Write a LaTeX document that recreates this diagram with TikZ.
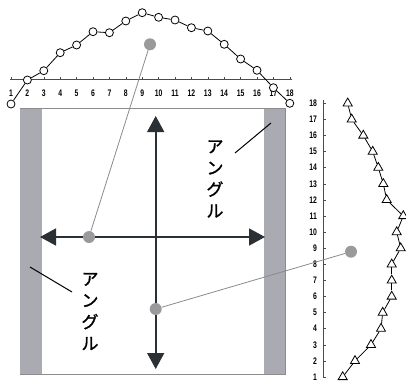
\documentclass[tikz,border=0pt]{standalone}
\usepackage{fontspec}
\setmainfont{Liberation Sans}
\newfontfamily\jp[FakeBold=1.2]{Noto Sans CJK JP}
\usetikzlibrary{arrows.meta,shapes.geometric}
\definecolor{bargray}{HTML}{A9AAB2}
\definecolor{dotgray}{HTML}{9A9A9C}
\definecolor{arrowdark}{HTML}{2B3035}
\tikzset{
  cmark/.style={circle,draw=black,fill=white,line width=0.8pt,inner sep=0pt,minimum size=8pt},
  tmark/.style={regular polygon,regular polygon sides=3,draw=black,fill=white,line width=0.8pt,inner sep=0pt,minimum size=10.5pt},
  gdot/.style={circle,fill=dotgray,inner sep=0pt,minimum size=12pt},
  numlab/.style={font=\bfseries\fontsize{9.5}{10}\selectfont,inner sep=0pt,xscale=0.72},
  jplabel/.style={font=\jp\fontsize{17}{21.5}\selectfont,align=center,inner sep=0pt},
  bigarrow/.style={line width=1.6pt,draw=arrowdark,{Triangle[width=17pt,length=16pt,fill=arrowdark]}-{Triangle[width=17pt,length=16pt,fill=arrowdark]}},
  graylink/.style={draw=dotgray!90!black,line width=0.8pt},
  leader/.style={draw=black,line width=1pt}
}
\begin{document}
\begin{tikzpicture}[x=1pt,y=-1pt]
\useasboundingbox (0,0) rectangle (406,383);
% ---------- top chart ----------
\coordinate (axL) at (10,79);
\coordinate (axR) at (292,79);
\draw[line width=0.6pt,draw=black!70] (axL) -- (axR);
\foreach \i in {1,...,18}{
  \pgfmathsetmacro{\xx}{11+(\i-1)*16.4}
  \draw[line width=0.5pt,draw=black!70] (\xx,79) -- (\xx,76.5);
  \node[numlab] (xl\i) at (\xx,93) {\i};
}
\foreach \i/\yy in {1/104,2/80,3/70.7,4/52.7,5/45,6/31.7,7/32.7,8/21,9/12.7,10/17.3,11/20,12/27.7,13/31,14/44.3,15/59,16/70.3,17/87.7,18/103.3}{
  \pgfmathsetmacro{\xx}{11+(\i-1)*16.4}
  \node[cmark] (c\i) at (\xx,\yy) {};
}
\foreach \i [evaluate=\i as \j using int(\i+1)] in {1,...,17}{
  \draw[line width=0.8pt] (c\i) -- (c\j);
}
% ---------- right chart ----------
\coordinate (ayT) at (323,100);
\coordinate (ayB) at (323,378);
\draw[line width=0.6pt,draw=black!70] (ayT) -- (ayB);
\foreach \i in {1,...,18}{
  \pgfmathsetmacro{\yy}{377-(\i-1)*16.1}
  \draw[line width=0.5pt,draw=black!70] (323,\yy) -- (326,\yy);
  \node[numlab,anchor=east] (yl\i) at (317,\yy) {\i};
}
\foreach \i/\xx in {1/342.7,2/355,3/371,4/381,5/382.7,6/391.7,7/391.7,8/391.7,9/400.7,10/396.7,11/403.3,12/386.7,13/383.3,14/378.3,15/372.7,16/363.3,17/351.7,18/347.7}{
  \pgfmathsetmacro{\yy}{377-(\i-1)*16.1}
  \node[tmark] (t\i) at (\xx,\yy) {};
}
\foreach \i [evaluate=\i as \j using int(\i+1)] in {1,...,17}{
  \draw[line width=0.8pt] (t\i) -- (t\j);
}
% ---------- frame ----------
\draw[draw=black!45,line width=0.6pt,fill=white] (20,108) rectangle (285,374);
\fill[bargray] (20,108.5) rectangle (41.5,373.5);
\fill[bargray] (264,108.5) rectangle (285,374);
% ---------- arrows ----------
\coordinate (hl) at (40,237);
\coordinate (hr) at (265,237);
\coordinate (vt) at (155.7,116);
\coordinate (vb) at (155.7,369);
\draw[bigarrow] (hl) -- (hr);
\draw[bigarrow] (vt) -- (vb);
% ---------- texts ----------
\node[jplabel] (angR) at (215,179) {ア\\ン\\グ\\ル};
\node[jplabel] (angL) at (90,311.5) {ア\\ン\\グ\\ル};
\coordinate (ldR1) at (235,153);
\coordinate (ldR2) at (271,123);
\draw[leader] (ldR1) -- (ldR2);
\coordinate (ldL1) at (30,267);
\coordinate (ldL2) at (72,292);
\draw[leader] (ldL1) -- (ldL2);
% ---------- gray dots and links ----------
\node[gdot] (g1) at (150,44.3) {};
\node[gdot] (g2) at (89,237) {};
\node[gdot] (g3) at (155.7,309) {};
\node[gdot] (g4) at (351,251.7) {};
\draw[graylink] (g1) -- (g2);
\draw[graylink] (g3) -- (g4);
\end{tikzpicture}
\end{document}
